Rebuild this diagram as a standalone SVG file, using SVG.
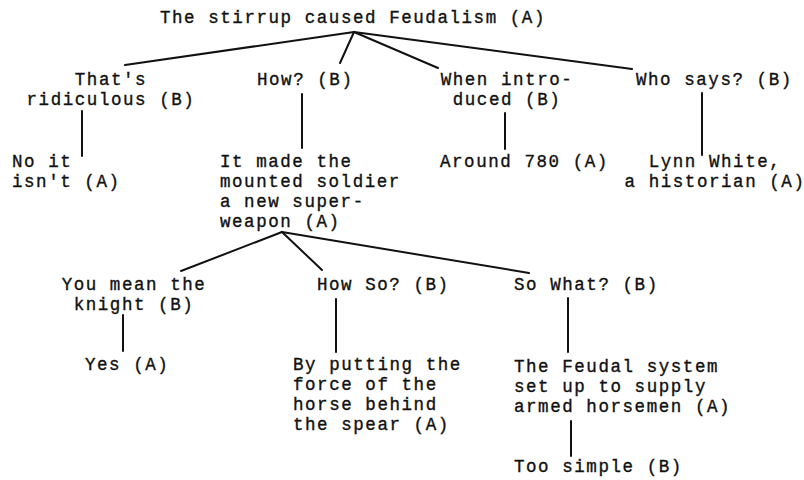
<svg xmlns="http://www.w3.org/2000/svg" width="804" height="480" viewBox="0 0 804 480">
<style>
text{font-family:"Liberation Mono","Courier New",monospace;font-size:17.5px;letter-spacing:1.56px;fill:#111;stroke:#111;stroke-width:0.35;}
.m{text-anchor:middle;}
.c line{stroke:#111;stroke-width:2;stroke-linecap:round;}
</style>
<rect width="804" height="480" fill="#fff"/>
<g class="c" id="connectors">
<line x1="354" y1="32" x2="125" y2="65"/>
<line x1="354" y1="32" x2="340" y2="63"/>
<line x1="354" y1="32" x2="438" y2="68"/>
<line x1="354" y1="32" x2="632" y2="69"/>
<line x1="82" y1="111" x2="82" y2="156"/>
<line x1="302" y1="94" x2="302" y2="148"/>
<line x1="505" y1="113" x2="505" y2="149"/>
<line x1="702" y1="93" x2="702" y2="155"/>
<line x1="282" y1="232" x2="181" y2="271"/>
<line x1="282" y1="232" x2="322" y2="270"/>
<line x1="282" y1="232" x2="529" y2="273"/>
<line x1="123" y1="315" x2="123" y2="351"/>
<line x1="336" y1="299" x2="336" y2="352"/>
<line x1="568" y1="298" x2="568" y2="352"/>
<line x1="571" y1="421" x2="571" y2="456"/>
</g>
<g id="root"><text x="160" y="23">The stirrup caused Feudalism (A)</text></g>
<g id="ridiculous"><text class="m" x="111" y="85">That's</text><text class="m" x="111" y="105">ridiculous (B)</text></g>
<g id="how"><text x="257" y="85">How? (B)</text></g>
<g id="when"><text class="m" x="507" y="85">When intro-</text><text class="m" x="507" y="105">duced (B)</text></g>
<g id="who"><text x="636" y="85">Who says? (B)</text></g>
<g id="noitisnt"><text x="12" y="167">No it</text><text x="12" y="187">isn't (A)</text></g>
<g id="madesoldier"><text x="220" y="167">It made the</text><text x="220" y="187">mounted soldier</text><text x="220" y="207">a new super-</text><text x="220" y="227">weapon (A)</text></g>
<g id="around"><text x="440" y="167">Around 780 (A)</text></g>
<g id="lynn"><text class="m" x="715" y="167">Lynn White,</text><text class="m" x="715" y="187">a historian (A)</text></g>
<g id="knight"><text class="m" x="134" y="290">You mean the</text><text class="m" x="134" y="310">knight (B)</text></g>
<g id="howso"><text x="317" y="290">How So? (B)</text></g>
<g id="sowhat"><text x="514" y="290">So What? (B)</text></g>
<g id="yes"><text x="85" y="370">Yes (A)</text></g>
<g id="putting"><text x="293" y="370">By putting the</text><text x="293" y="390">force of the</text><text x="293" y="410">horse behind</text><text x="293" y="430">the spear (A)</text></g>
<g id="feudal"><text x="514" y="372">The Feudal system</text><text x="514" y="392">set up to supply</text><text x="514" y="412">armed horsemen (A)</text></g>
<g id="toosimple"><text x="514" y="472">Too simple (B)</text></g>
</svg>
